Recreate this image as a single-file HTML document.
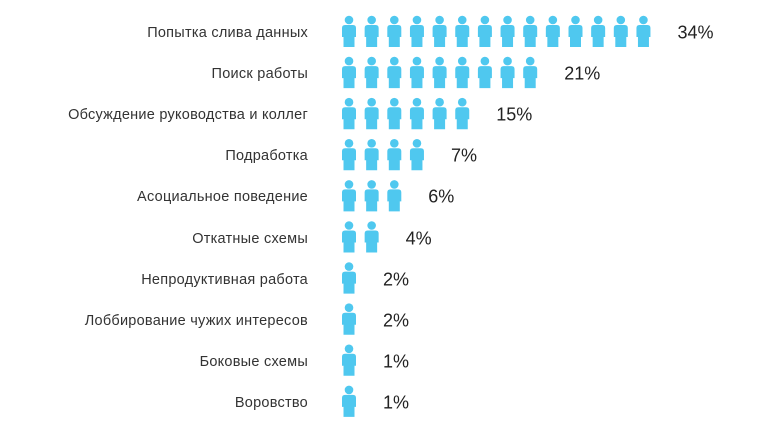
<!DOCTYPE html>
<html><head><meta charset="utf-8"><style>
body{margin:0;width:780px;height:433px;background:#fff;font-family:"Liberation Sans",sans-serif;position:relative;overflow:hidden}
.l{position:absolute;right:472px;font-size:14.5px;letter-spacing:0.25px;color:#333;white-space:nowrap;transform:translateY(-50%)}
.p{position:absolute;font-size:18px;color:#222;transform:translateY(-50%)}
svg{position:absolute;left:0;top:0}
</style></head><body>
<svg width="780" height="433" id="s"></svg>
<script>
var rows=[["Попытка слива данных",14,"34%"],["Поиск работы",9,"21%"],["Обсуждение руководства и коллег",6,"15%"],["Подработка",4,"7%"],["Асоциальное поведение",3,"6%"],["Откатные схемы",2,"4%"],["Непродуктивная работа",1,"2%"],["Лоббирование чужих интересов",1,"2%"],["Боковые схемы",1,"1%"],["Воровство",1,"1%"]];
var s=document.getElementById('s'),h='';
rows.forEach(function(r,i){
 var cy=33+i*41.1;
 var d=document.createElement('div');d.className='l';d.style.top=cy+'px';d.textContent=r[0];document.body.appendChild(d);
 for(var k=0;k<r[1];k++){
  var x=349+k*22.65;
  h+='<circle cx="'+x+'" cy="'+(cy-13)+'" r="4.3" fill="#4fc8ef"/>';
  h+='<path d="M'+(x-7)+' '+(cy-5)+'q0-3 3-3h8q3 0 3 3v9h-1.5v10h-11v-10h-1.5z" fill="#4fc8ef"/>';
 }
 var p=document.createElement('div');p.className='p';p.style.top=cy+'px';p.style.left=(349+(r[1]-1)*22.65+34)+'px';p.textContent=r[2];document.body.appendChild(p);
});
s.innerHTML=h;
</script>
</body></html>
